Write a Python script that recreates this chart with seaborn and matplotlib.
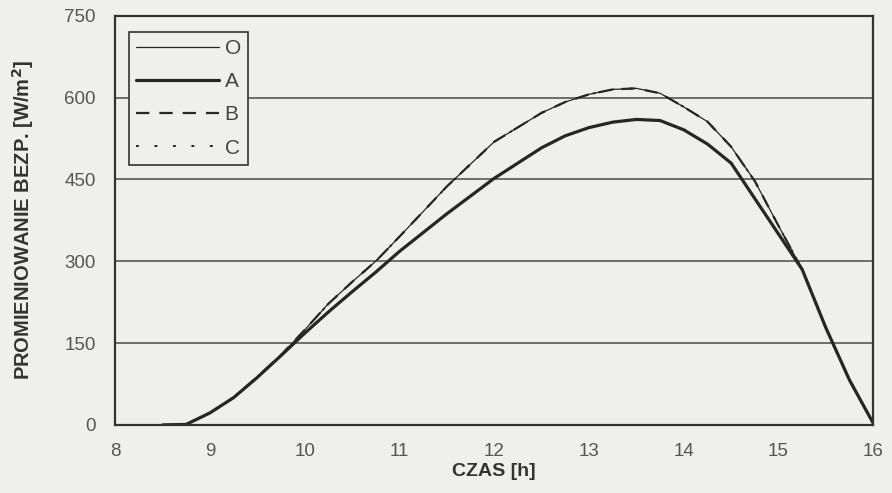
"""
solar irradiance over the day for variants O, A, B, C
"""
import numpy as np
import pandas as pd
import matplotlib.pyplot as plt
import seaborn as sns

# hours of the day
hours = [8.5, 8.75, 9.0, 9.25, 9.5, 9.75, 10.0, 10.25, 10.5, 10.75, 11.0,
         11.5, 12.0, 12.5, 12.75, 13.0, 13.25, 13.5, 13.75, 14.0, 14.25,
         14.5, 14.75, 15.0, 15.25, 15.5, 15.75, 16.0]
# irradiance [W/m2]
o_vals = [0, 1, 22, 50, 88, 128, 174, 222, 262, 300, 345,
          437, 519, 572, 592, 606, 615, 617, 608, 583, 556,
          510, 447, 365, 285, 178, 82, 3]
a_vals = [0, 1, 22, 50, 87, 127, 168, 207, 244, 280, 318,
          387, 452, 508, 530, 545, 555, 560, 558, 541, 515,
          480, 415, 350, 285, 178, 82, 3]
b_vals = o_vals
c_vals = o_vals

series = {'O': o_vals, 'A': a_vals, 'B': b_vals, 'C': c_vals}
styles = {'O': dict(lw=0.9, ls='-'),
          'A': dict(lw=2.3, ls='-'),
          'B': dict(lw=1.6, ls=(0, (6, 4.5))),
          'C': dict(lw=1.4, ls=(0, (1.5, 8)))}

df = pd.DataFrame([(h, v, name) for name, vals in series.items()
                   for h, v in zip(hours, vals)],
                  columns=['hour', 'value', 'variant'])

sns.set_style('white')
plt.rcParams['font.family'] = ['Liberation Sans', 'DejaVu Sans']
bg = '#efefed'

fig = plt.figure(figsize=(8.92, 4.93), dpi=100, facecolor=bg)
ax = fig.add_axes([0.129, 0.138, 0.850, 0.830], facecolor=bg)

for name in ['O', 'A', 'B', 'C']:
    sns.lineplot(data=df[df['variant'] == name], x='hour', y='value',
                 color='#262626', label=name, ax=ax,
                 linewidth=styles[name]['lw'], linestyle=styles[name]['ls'])

ax.set_xlim(8, 16)
ax.set_ylim(0, 750)
ax.set_xticks(np.arange(8, 17, 1))
ax.set_yticks(np.arange(0, 751, 150))
ax.yaxis.grid(True, color='#4a4a4a', linewidth=1.1)
ax.tick_params(axis='both', labelsize=13.5, labelcolor='#555555',
               direction='out', width=1, color='#333333')
ax.tick_params(axis='x', length=4, pad=9)
ax.tick_params(axis='y', length=6, pad=8)
for sp in ax.spines.values():
    sp.set_color('#333333')
    sp.set_linewidth(1.6)

ax.set_xlabel('CZAS [h]', fontsize=14, fontweight='bold', color='#333333',
              labelpad=2)
ax.set_ylabel('PROMIENIOWANIE BEZP. [W/m$\\mathbf{^2}$]', fontsize=14.5,
              fontweight='bold', color='#333333', labelpad=20)

leg = ax.legend(loc='upper left', bbox_to_anchor=(0.018, 0.961),
                handlelength=4.0, handletextpad=0.25, labelspacing=0.68,
                fontsize=15, frameon=True, fancybox=False,
                borderpad=0.35, borderaxespad=0)
leg.get_frame().set_edgecolor('#333333')
leg.get_frame().set_facecolor(bg)
leg.get_frame().set_alpha(1)
leg.get_frame().set_linewidth(1.2)
for t in leg.get_texts():
    t.set_color('#444444')

plt.savefig('out.png', dpi=100, facecolor=bg)
